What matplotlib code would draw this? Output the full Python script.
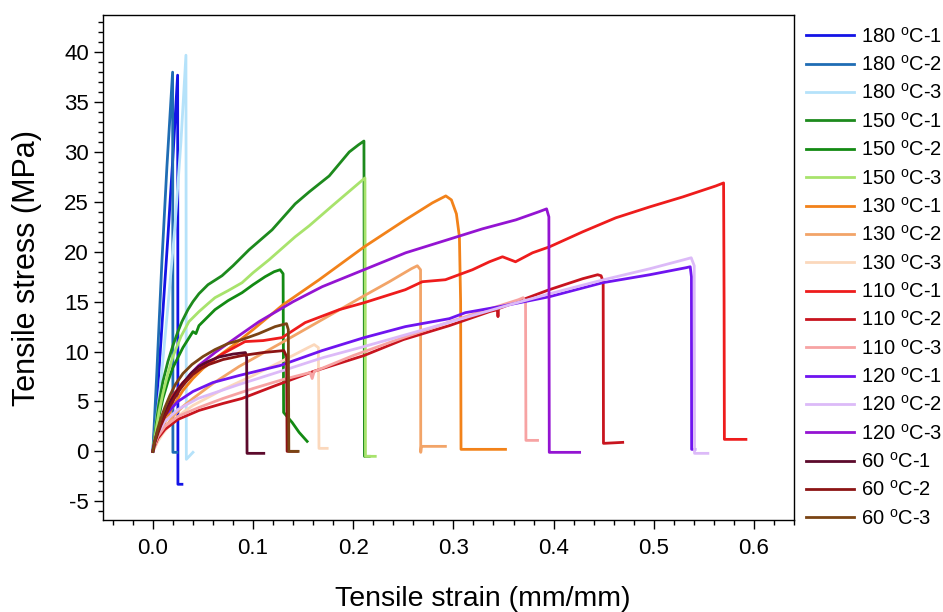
import matplotlib
matplotlib.use("Agg")
import matplotlib.pyplot as plt
from matplotlib.ticker import MultipleLocator, FormatStrFormatter

plt.rcParams['font.family'] = ['Liberation Sans', 'DejaVu Sans']
plt.rcParams['mathtext.fontset'] = 'custom'
plt.rcParams['mathtext.rm'] = 'Liberation Sans'
plt.rcParams['axes.unicode_minus'] = False

# strain (mm/mm), stress (MPa)
s180_1_x = [0, 0.005, 0.010, 0.015, 0.020, 0.0247, 0.0249, 0.0250, 0.029]
s180_1_y = [0, 6.5, 14.0, 21.5, 29.5, 37.7, 20.0, -3.3, -3.3]
s180_2_x = [0, 0.004, 0.009, 0.014, 0.0197, 0.0199, 0.0200, 0.024]
s180_2_y = [0, 8.0, 19.0, 28.5, 38.0, 20.0, -0.1, -0.1]
s180_3_x = [0, 0.008, 0.015, 0.022, 0.028, 0.0330, 0.0332, 0.0334, 0.040]
s180_3_y = [0, 7.0, 14.5, 22.5, 31.0, 39.7, 20.0, -0.8, -0.1]

s150_1_x = [0, 0.003, 0.006, 0.010, 0.015, 0.020, 0.025, 0.029, 0.035, 0.040, 0.046,
            0.055, 0.069, 0.080, 0.096, 0.119, 0.142, 0.156, 0.176, 0.196, 0.205,
            0.2107, 0.2110, 0.2112, 0.216]
s150_1_y = [0, 2.5, 4.8, 7.0, 9.0, 10.6, 12.0, 13.0, 14.2, 15.0, 15.8,
            16.7, 17.6, 18.6, 20.2, 22.2, 24.8, 26.0, 27.6, 30.0, 30.7,
            31.1, 15.0, -0.5, -0.5]
s150_2_x = [0, 0.003, 0.006, 0.010, 0.015, 0.020, 0.030, 0.040, 0.043, 0.046, 0.062,
            0.075, 0.089, 0.100, 0.112, 0.121, 0.127, 0.1300, 0.1305, 0.139, 0.146,
            0.154]
s150_2_y = [0, 1.8, 3.5, 5.3, 7.0, 8.4, 10.4, 12.0, 11.8, 12.6, 14.2,
            15.1, 15.9, 16.7, 17.5, 18.0, 18.2, 17.8, 3.9, 2.9, 1.9,
            1.0]
s150_3_x = [0, 0.003, 0.006, 0.010, 0.015, 0.020, 0.028, 0.036, 0.046, 0.055, 0.062,
            0.075, 0.089, 0.100, 0.116, 0.142, 0.156, 0.179, 0.200, 0.2117, 0.2120,
            0.2122, 0.222]
s150_3_y = [0, 2.0, 3.9, 5.8, 7.8, 9.5, 11.5, 13.0, 14.0, 14.8, 15.4,
            16.1, 16.9, 17.9, 19.2, 21.5, 22.6, 24.6, 26.4, 27.4, 15.0,
            -0.5, -0.5]

s130_1_x = [0, 0.005, 0.010, 0.020, 0.030, 0.040, 0.050, 0.065, 0.080, 0.100, 0.130,
            0.166, 0.211, 0.252, 0.279, 0.2924, 0.298, 0.303, 0.306, 0.3072, 0.3076,
            0.352]
s130_1_y = [0, 1.4, 2.5, 4.5, 6.1, 7.3, 8.3, 9.5, 10.6, 12.2, 14.7,
            17.2, 20.5, 23.2, 24.9, 25.6, 25.2, 23.8, 21.5, 15.0, 0.2,
            0.2]
s130_2_x = [0, 0.005, 0.010, 0.020, 0.030, 0.040, 0.060, 0.086, 0.127, 0.169, 0.211,
            0.236, 0.258, 0.264, 0.2672, 0.2674, 0.268, 0.292]
s130_2_y = [0, 1.1, 2.0, 3.5, 4.5, 5.3, 6.8, 8.5, 10.8, 13.2, 15.6,
            17.0, 18.3, 18.6, 18.2, -0.1, 0.5, 0.5]
s130_3_x = [0, 0.005, 0.010, 0.020, 0.030, 0.040, 0.070, 0.100, 0.130, 0.155, 0.161,
            0.1652, 0.1656, 0.1658, 0.174]
s130_3_y = [0, 1.0, 1.8, 3.0, 3.9, 4.6, 6.2, 7.6, 9.1, 10.4, 10.7,
            10.4, 5.0, 0.3, 0.3]

s110_1_x = [0, 0.002, 0.005, 0.010, 0.015, 0.020, 0.030, 0.040, 0.050, 0.070, 0.092,
            0.110, 0.129, 0.152, 0.186, 0.211, 0.252, 0.269, 0.292, 0.319, 0.336,
            0.349, 0.362, 0.379, 0.396, 0.429, 0.462, 0.496, 0.529, 0.562, 0.5697,
            0.5702, 0.5705, 0.592]
s110_1_y = [0, 1.0, 2.0, 3.6, 4.7, 5.6, 6.9, 7.8, 8.5, 9.8, 11.0,
            11.1, 11.4, 12.9, 14.2, 14.9, 16.2, 17.0, 17.2, 18.2, 19.0,
            19.5, 19.0, 19.9, 20.5, 22.0, 23.4, 24.5, 25.5, 26.6, 26.9,
            15.0, 1.2, 1.2]
s110_2_x = [0, 0.002, 0.005, 0.012, 0.025, 0.046, 0.070, 0.089, 0.120, 0.160, 0.2107,
            0.250, 0.296, 0.336, 0.344, 0.3445, 0.345, 0.3957, 0.429, 0.444, 0.4474,
            0.4495, 0.4498, 0.469]
s110_2_y = [0, 0.6, 1.3, 2.2, 3.2, 4.1, 4.8, 5.3, 6.5, 8.0, 9.6,
            11.2, 12.6, 14.0, 14.2, 13.5, 14.3, 16.2, 17.3, 17.7, 17.6,
            17.0, 0.8, 0.9]
s110_3_x = [0, 0.002, 0.005, 0.012, 0.025, 0.046, 0.070, 0.100, 0.130, 0.157, 0.159,
            0.161, 0.200, 0.250, 0.300, 0.340, 0.365, 0.3697, 0.3720, 0.3724, 0.384]
s110_3_y = [0, 0.7, 1.5, 2.5, 3.5, 4.4, 5.3, 6.3, 7.2, 7.9, 7.3,
            8.0, 9.6, 11.4, 13.1, 14.4, 15.2, 15.4, 15.0, 1.1, 1.1]

s120_1_x = [0, 0.002, 0.005, 0.012, 0.025, 0.040, 0.060, 0.086, 0.127, 0.169, 0.211,
            0.252, 0.296, 0.312, 0.346, 0.396, 0.449, 0.496, 0.532, 0.5364, 0.5376,
            0.5378, 0.541]
s120_1_y = [0, 1.1, 2.2, 3.6, 5.0, 6.0, 6.9, 7.6, 8.6, 10.1, 11.4,
            12.5, 13.3, 13.9, 14.5, 15.5, 16.9, 17.7, 18.4, 18.5, 17.5,
            0.2, 0.2]
s120_2_x = [0, 0.002, 0.005, 0.012, 0.025, 0.045, 0.086, 0.130, 0.170, 0.2107, 0.260,
            0.312, 0.360, 0.400, 0.450, 0.496, 0.530, 0.5374, 0.5404, 0.5407, 0.554]
s120_2_y = [0, 0.9, 1.8, 3.0, 4.2, 5.3, 6.7, 8.1, 9.4, 10.5, 11.9,
            13.4, 14.8, 15.9, 17.2, 18.3, 19.2, 19.4, 18.6, -0.2, -0.2]
s120_3_x = [0, 0.002, 0.005, 0.0124, 0.020, 0.029, 0.037, 0.0457, 0.062, 0.086, 0.106,
            0.140, 0.169, 0.2107, 0.2524, 0.294, 0.329, 0.3624, 0.385, 0.393, 0.3953,
            0.3957, 0.426]
s120_3_y = [0, 1.0, 2.0, 3.8, 5.2, 6.6, 7.7, 8.6, 9.9, 11.6, 13.0,
            15.0, 16.5, 18.2, 19.9, 21.2, 22.3, 23.2, 24.0, 24.3, 23.5,
            -0.1, -0.1]

s60_1_x = [0, 0.002, 0.005, 0.008, 0.012, 0.017, 0.0224, 0.028, 0.033, 0.039, 0.0457,
           0.055, 0.0657, 0.080, 0.0924, 0.0936, 0.0940, 0.1107]
s60_1_y = [0, 1.0, 2.0, 2.9, 3.8, 4.9, 5.8, 6.6, 7.2, 7.9, 8.5,
           9.0, 9.45, 9.75, 9.9, 9.4, -0.2, -0.2]
s60_2_x = [0, 0.002, 0.005, 0.008, 0.012, 0.017, 0.022, 0.027, 0.0324, 0.040, 0.048,
           0.0557, 0.070, 0.089, 0.110, 0.1307, 0.1335, 0.1340, 0.144]
s60_2_y = [0, 0.9, 1.8, 2.6, 3.5, 4.5, 5.4, 6.2, 6.9, 7.7, 8.3,
           8.7, 9.2, 9.6, 9.9, 10.1, 9.5, 0.0, 0.0]
s60_3_x = [0, 0.002, 0.005, 0.008, 0.012, 0.017, 0.0224, 0.030, 0.039, 0.050, 0.062,
           0.075, 0.089, 0.1057, 0.122, 0.1334, 0.1352, 0.1357, 0.145]
s60_3_y = [0, 1.1, 2.3, 3.3, 4.4, 5.6, 6.7, 7.8, 8.7, 9.5, 10.2,
           10.8, 11.2, 11.8, 12.5, 12.8, 12.2, 0.0, 0.0]

labels = ['180', '180', '180', '150', '150', '150', '130', '130', '130',
          '110', '110', '110', '120', '120', '120', '60', '60', '60']
repeats = [1, 2, 3] * 6
colors = ['#1414e6', '#1f6db4', '#b5e2fa', '#1d8a1d', '#138a13', '#a8e36c',
          '#f2821a', '#f2a468', '#fbd8bc', '#ee1c1c', '#c8141e', '#f7a3a3',
          '#6f14f0', '#dcbaf8', '#9414d2', '#5c0a2c', '#8c1414', '#7a4414']

curves = [(s180_1_x, s180_1_y), (s180_2_x, s180_2_y), (s180_3_x, s180_3_y),
          (s150_1_x, s150_1_y), (s150_2_x, s150_2_y), (s150_3_x, s150_3_y),
          (s130_1_x, s130_1_y), (s130_2_x, s130_2_y), (s130_3_x, s130_3_y),
          (s110_1_x, s110_1_y), (s110_2_x, s110_2_y), (s110_3_x, s110_3_y),
          (s120_1_x, s120_1_y), (s120_2_x, s120_2_y), (s120_3_x, s120_3_y),
          (s60_1_x, s60_1_y), (s60_2_x, s60_2_y), (s60_3_x, s60_3_y)]

fig = plt.figure(figsize=(9.43, 6.12), dpi=100)
ax = fig.add_axes([0.109, 0.150, 0.733, 0.825])

for (xs, ys), t, r, c in zip(curves, labels, repeats, colors):
    ax.plot(xs, ys, color=c, lw=2.0, label=t + r' $^{\mathrm{o}}$C-' + str(r))

ax.set_xlim(-0.05, 0.64)
ax.set_ylim(-6.9, 43.7)
ax.xaxis.set_major_locator(MultipleLocator(0.1))
ax.xaxis.set_minor_locator(MultipleLocator(0.02))
ax.yaxis.set_major_locator(MultipleLocator(5))
ax.yaxis.set_minor_locator(MultipleLocator(1))
ax.xaxis.set_major_formatter(FormatStrFormatter('%.1f'))
ax.tick_params(which='both', direction='out', top=False, right=False, width=1, labelsize=16)
ax.tick_params(axis='x', pad=6)
ax.tick_params(which='major', length=6.5)
ax.tick_params(which='minor', length=3.5)
for sp in ax.spines.values():
    sp.set_linewidth(1.0)

ax.set_xlabel('Tensile strain (mm/mm)', fontsize=20.5, labelpad=20)
ax.xaxis.label.set_x(0.549)
ax.set_ylabel('Tensile stress (MPa)', fontsize=22, labelpad=16)

fig.legend(loc='upper left', bbox_to_anchor=(0.846, 0.970), frameon=False,
           fontsize=14.5, handlelength=2.4, handletextpad=0.35, labelspacing=0.415,
           borderaxespad=0)

fig.savefig('out.png', dpi=100)
